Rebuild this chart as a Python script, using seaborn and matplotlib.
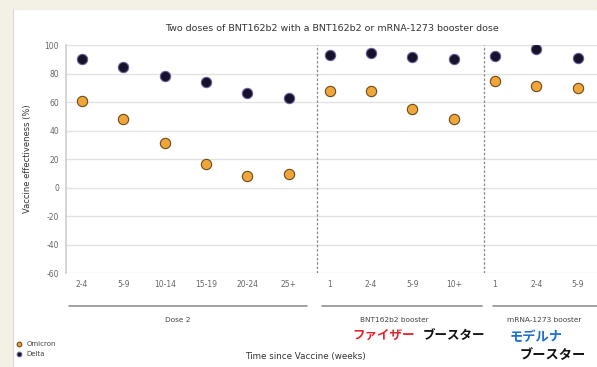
import numpy as np
import pandas as pd
import seaborn as sns
import matplotlib.pyplot as plt
from matplotlib.patches import Rectangle

# data
time_labels = ['2-4', '5-9', '10-14', '15-19', '20-24', '25+',
               '1', '2-4', '5-9', '10+',
               '1', '2-4', '5-9']
groups = ['Dose 2'] * 6 + ['BNT162b2 booster'] * 4 + ['mRNA-1273 booster'] * 3
omicron = [61, 48, 31.5, 16.5, 8, 9.5, 68, 68, 55.5, 48, 75, 71.5, 70]
delta = [90, 85, 78, 74, 66.5, 63, 93, 94.5, 91.5, 90.5, 92.5, 97, 91]

pos = np.arange(len(time_labels))
df = pd.DataFrame({
    'pos': np.concatenate([pos, pos]),
    've': omicron + delta,
    'variant': ['Omicron'] * len(pos) + ['Delta'] * len(pos),
})

sns.set_theme(style='white')
plt.rcParams['font.family'] = ['DejaVu Sans', 'Noto Sans CJK JP']
plt.rcParams['axes.unicode_minus'] = False

fig = plt.figure(figsize=(5.97, 3.67), dpi=100)
ax = fig.add_axes([0.1106, 0.256, 0.8894, 0.621])

# beige frame bits of the screenshot
fig.patches.append(Rectangle((0, 0.975), 1, 0.025, transform=fig.transFigure,
                             color='#f3f1e6', zorder=0))
fig.patches.append(Rectangle((0, 0), 0.02, 1, transform=fig.transFigure,
                             color='#f3f1e6', zorder=0))
fig.lines.append(plt.Line2D([0.021, 0.021], [0, 0.975], transform=fig.transFigure,
                            color='#d8d8d8', lw=0.8))

pal = {'Omicron': '#f0a53a', 'Delta': '#16122b'}
edges = {'Omicron': '#6b4a1a', 'Delta': '#6e5c9a'}
for v in ['Omicron', 'Delta']:
    sub = df[df['variant'] == v]
    sns.scatterplot(data=sub, x='pos', y='ve', ax=ax, color=pal[v], s=55,
                    edgecolor=edges[v], linewidth=0.8, label=v, zorder=3)

ax.set_xlim(-0.39, 12.47)
ax.set_ylim(-60, 100)
ax.set_yticks(range(-60, 101, 20))
ax.set_xticks(pos)
ax.set_xticklabels(time_labels)
ax.tick_params(axis='both', labelsize=5.5, labelcolor='#666666', length=0, pad=5)
ax.yaxis.grid(True, color='#e2e2e2', lw=1)
for s in ['top', 'right', 'bottom']:
    ax.spines[s].set_visible(False)
ax.spines['left'].set_color('#d0d0d0')
ax.set_xlabel('')
ax.set_ylabel('Vaccine effectiveness (%)', fontsize=6, color='#333333', labelpad=9)

for xd in [5.69, 9.73]:
    ax.axvline(xd, color='#888888', lw=0.9, ls=(0, (2, 1.5)), zorder=1)

ax.set_title('Two doses of BNT162b2 with a BNT162b2 or mRNA-1273 booster dose',
             fontsize=6.8, color='#333333', pad=10)

# group brackets under the ticks
tr = ax.get_xaxis_transform()
spans = [(-0.31, 5.45), (5.81, 9.69), (9.95, 12.6)]
for (a, b), g in zip(spans, ['Dose 2', 'BNT162b2 booster', 'mRNA-1273 booster']):
    ax.plot([a, b], [-0.145, -0.145], transform=tr, color='#9a9a9a', lw=1.3,
            clip_on=False)
for xc, g in zip([2.32, 7.55, 11.2], ['Dose 2', 'BNT162b2 booster', 'mRNA-1273 booster']):
    ax.text(xc, -0.205, g, transform=tr, ha='center', va='center', fontsize=5.3,
            color='#444444')

ax.text(5.4, -0.365, 'Time since Vaccine (weeks)', transform=tr, ha='center',
        va='center', fontsize=6.3, color='#333333')

jp = ['Noto Sans CJK JP']
ax.text(6.55, -0.275, 'ファイザー', transform=tr, ha='left', va='center',
        fontsize=9, color='#e3262e', family=jp, fontweight='bold')
ax.text(8.25, -0.275, 'ブースター', transform=tr, ha='left', va='center',
        fontsize=9, color='#111111', family=jp, fontweight='bold')
ax.text(10.35, -0.28, 'モデルナ', transform=tr, ha='left', va='center',
        fontsize=9.5, color='#1f6fd0', family=jp, fontweight='bold')
ax.text(10.6, -0.36, 'ブースター', transform=tr, ha='left', va='center',
        fontsize=9.5, color='#111111', family=jp, fontweight='bold')

leg = ax.legend(loc='center left', bbox_to_anchor=(0.015, 0.05),
                bbox_transform=fig.transFigure, frameon=False, fontsize=5,
                handletextpad=0.1, labelspacing=0.6, markerscale=0.45,
                borderaxespad=0)
for t in leg.get_texts():
    t.set_color('#444444')

fig.savefig('out.png', dpi=100)
